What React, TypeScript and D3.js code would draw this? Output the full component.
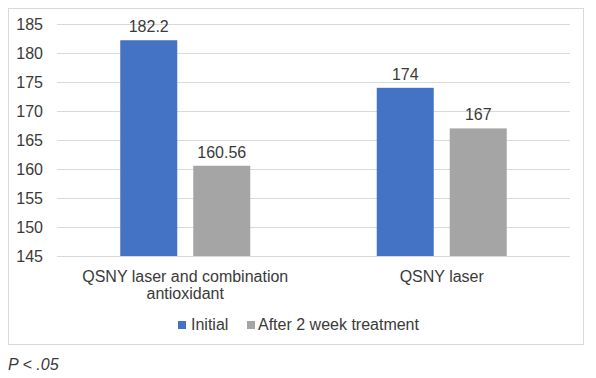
import React from "react";
import * as d3 from "d3";

const categories = ["QSNY laser and combination antioxidant", "QSNY laser"];
const categoryLines = [["QSNY laser and combination", "antioxidant"], ["QSNY laser"]];
const seriesNames = ["Initial", "After 2 week treatment"];
const initialValues = [182.2, 174];
const afterValues = [160.56, 167];
const valueLabels = [["182.2", "160.56"], ["174", "167"]];
const yTicks = [145, 150, 155, 160, 165, 170, 175, 180, 185];
const colors = ["#4472C4", "#A5A5A5"];

export default function App() {
  const W = 596, H = 378;
  const left = 57, right = 570, top = 24, bottom = 256;
  const y = d3.scaleLinear().domain([145, 185]).range([bottom, top]);
  const x0 = d3.scaleBand<string>().domain(categories).range([left, right]).paddingInner(0).paddingOuter(0);
  const groupW = 130;
  const x1 = d3.scaleBand<string>().domain(seriesNames).range([0, groupW]).paddingInner(16 / 73);
  const series = [initialValues, afterValues];
  const font = "'Liberation Sans', Arial, sans-serif";
  const fs = 16;
  const tc = "#3a3a3a";
  return (
    <svg width={W} height={H} style={{ position: "absolute", left: 0, top: 0, background: "#fff" }} fontFamily={font}>
      <rect x={8.5} y={8.5} width={575} height={336} fill="#fff" stroke="#D9D9D9" />
      {yTicks.map((t) => (
        <g key={t}>
          <line x1={left} x2={right} y1={Math.round(y(t)) + 0.5} y2={Math.round(y(t)) + 0.5} stroke="#D9D9D9" />
          <text x={43} y={y(t) + 5.5} textAnchor="end" fontSize={fs} fill={tc}>{t}</text>
        </g>
      ))}
      {categories.map((c, ci) => {
        const cx = x0(c)! + x0.bandwidth() / 2;
        const gx = cx - groupW / 2;
        return (
          <g key={c}>
            {series.map((s, si) => {
              const bx = gx + x1(seriesNames[si])!;
              const bw = x1.bandwidth();
              return (
                <g key={si}>
                  <rect x={bx} y={y(s[ci])} width={bw} height={bottom - y(s[ci])} fill={colors[si]} />
                  <text x={bx + bw / 2} y={y(s[ci]) - 8} textAnchor="middle" fontSize={fs} fill={tc}>{valueLabels[ci][si]}</text>
                </g>
              );
            })}
            {categoryLines[ci].map((ln, li) => (
              <text key={li} x={cx} y={282 + li * 16.5} textAnchor="middle" fontSize={fs} fill={tc}>{ln}</text>
            ))}
          </g>
        );
      })}
      <rect x={178} y={321} width={8} height={8} fill={colors[0]} />
      <text x={191} y={330} fontSize={fs} fill={tc}>{seriesNames[0]}</text>
      <rect x={247} y={321} width={8} height={8} fill={colors[1]} />
      <text x={258} y={330} fontSize={fs} fill={tc}>{seriesNames[1]}</text>
      <text x={8} y={370} fontSize={fs} fontStyle="italic" fill={tc}>P &lt; .05</text>
    </svg>
  );
}
